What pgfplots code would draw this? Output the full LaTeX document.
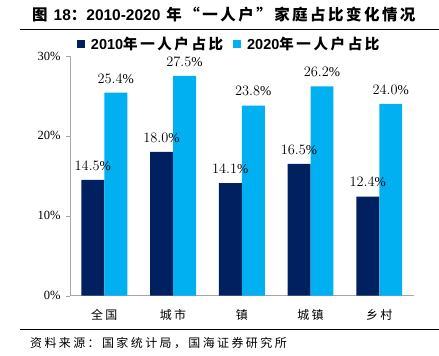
\documentclass[border=0pt]{standalone}
\usepackage{pgfplots}
\pgfplotsset{compat=1.18}
\usepackage{fontspec}
\setmainfont{Liberation Serif}
\newfontfamily\cjk{Noto Sans CJK SC}[LetterSpace=18]
\newfontfamily\cjkt{Noto Sans CJK SC}[LetterSpace=16]
\newfontfamily\cjkl{Noto Sans CJK SC}[LetterSpace=20]
\newfontfamily\arial{Liberation Sans}
\definecolor{navy}{HTML}{002060}
\definecolor{sky}{HTML}{00B0F0}
\definecolor{axgray}{HTML}{A6A6A6}
\begin{document}
\begin{tikzpicture}[x=1pt,y=1pt]
\path (0,0) rectangle (439,356);
\node[anchor=west,inner sep=0pt] at (32,341) {\fontsize{15.5}{17}\selectfont\bfseries\cjkt 图 {\arial\bfseries 18}：{\arial\bfseries 2010-2020} 年“一人户”家庭占比变化情况};
\draw[black,line width=0.8pt] (20,327) -- (439,327);
\draw[black,line width=0.8pt] (20,26) -- (439,26);
\node[anchor=west,inner sep=0pt] at (30,13) {\fontsize{12}{14}\selectfont\cjkl 资料来源：国家统计局，国海证券研究所};
\begin{axis}[
  at={(70pt,60pt)}, anchor=south west,
  width=344pt, height=240pt, scale only axis,
  ybar=0pt, bar width=23pt,
  xmin=-0.5, xmax=4.5, ymin=0, ymax=30,
  xtick={0,1,2,3,4},
  xticklabels={全国,城市,镇,城镇,乡村},
  x tick label style={font=\fontsize{12}{14}\selectfont\cjk, yshift=-6pt},
  major x tick style={draw=none},
  extra x ticks={-0.5,0.5,1.5,2.5,3.5,4.5},
  extra x tick labels={},
  extra x tick style={tick style={draw=axgray}},
  ytick={0,10,20,30},
  yticklabels={0\%,10\%,20\%,30\%},
  y tick label style={font=\fontsize{12.5}{14}\selectfont, xshift=-2pt},
  tick align=outside,
  major tick length=4pt,
  tick style={axgray},
  axis x line*=bottom, axis y line*=left,
  axis line style={axgray, line width=0.8pt},
  nodes near coords={\pgfmathprintnumber[fixed,fixed zerofill,precision=1]{\pgfplotspointmeta}\%},
  nodes near coords style={font=\fontsize{13.5}{15}\selectfont, black, yshift=6pt},
  legend columns=2,
  legend style={at={(0.02,1.0)}, anchor=south west, draw=none, fill=none,
    font=\fontsize{14.5}{16}\selectfont\arial\bfseries, column sep=8pt, inner sep=0pt, yshift=3pt},
  legend image code/.code={\fill[#1] (0pt,-4pt) rectangle (8pt,4pt);},
]
\addplot[fill=navy, draw=none] coordinates {(0,14.5) (1,18.0) (2,14.1) (3,16.5) (4,12.4)};
\addplot[fill=sky, draw=none] coordinates {(0,25.4) (1,27.5) (2,23.8) (3,26.2) (4,24.0)};
\legend{{\hspace{-4pt}2010\cjk 年一人户占比},{\hspace{-4pt}2020\cjk 年一人户占比}}
\end{axis}
\end{tikzpicture}
\end{document}
